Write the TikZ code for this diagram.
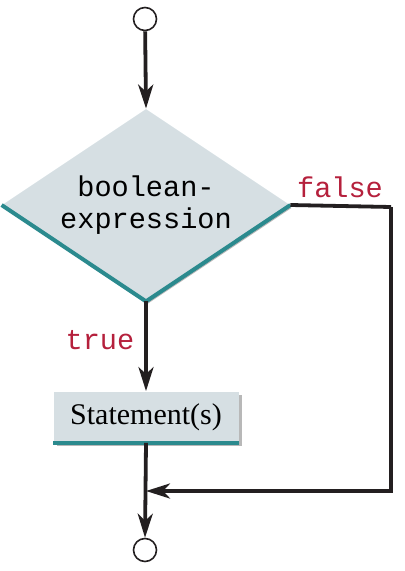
\documentclass[tikz,border=0pt]{standalone}
\usepackage{fontspec}
\setmainfont{Liberation Serif}
\setmonofont{Liberation Mono}
\usetikzlibrary{shapes.geometric,arrows.meta,shadows}
\definecolor{boxfill}{HTML}{D6DFE3}
\definecolor{tealline}{HTML}{2B8A8E}
\definecolor{labelred}{HTML}{B5203C}
\definecolor{ink}{HTML}{231F20}
\tikzset{
	flow/.style={ink,line width=1.9pt,-{Stealth[length=12pt,width=7.5pt,inset=3.5pt]}},
	plainflow/.style={ink,line width=1.9pt},
	endpoint/.style={circle,draw=ink,line width=0.8pt,minimum size=11.5pt,inner sep=0pt},
	decision/.style={diamond,aspect=1.5,fill=boxfill,minimum width=144pt,minimum height=96pt,inner sep=0pt,
		font=\ttfamily\fontsize{14.3}{16}\selectfont,align=center,
		drop shadow={shadow xshift=0.8pt,shadow yshift=-1.5pt,fill=black!28,opacity=1}},
	stepbox/.style={rectangle,fill=boxfill,minimum width=92.5pt,minimum height=25.5pt,inner sep=0pt,
		font=\fontsize{15}{17}\selectfont,
		drop shadow={shadow xshift=1.5pt,shadow yshift=-1.5pt,fill=black!28,opacity=1}},
	tealedge/.style={tealline,line width=2pt},
	branch/.style={labelred,font=\ttfamily\fontsize{14.3}{16}\selectfont}
}
\begin{document}
\begin{tikzpicture}[x=0.5pt,y=-0.5pt]
	\useasboundingbox (0,0) rectangle (405,571);
	% nodes
	\node[endpoint] (start) at (145,19) {};
	\node[decision] (cond) at (146,205) {boolean-\\expression};
	\node[stepbox] (stmt) at (146,417) {Statement(s)};
	\node[endpoint] (stop) at (145,550) {};
	\draw[tealedge] (cond.west) -- (cond.south) -- (cond.east);
	\draw[tealedge] (stmt.south west) -- (stmt.south east);
	% connectors
	\coordinate (c1) at (391,207);
	\coordinate (c2) at (391,491);
	\draw[flow] (start) -- (cond.north);
	\draw[flow] (cond.south) -- (stmt.north);
	\draw[flow] (stmt.south) -- (stop.north);
	\draw[plainflow] (cond.east) -- (c1);
	\draw[flow] (c1) -- (c2) -- (stmt.south |- c2);
	% labels
	\node[branch] (lfalse) at (340,187) {false};
	\node[branch] (ltrue) at (100,340) {true};
\end{tikzpicture}
\end{document}
